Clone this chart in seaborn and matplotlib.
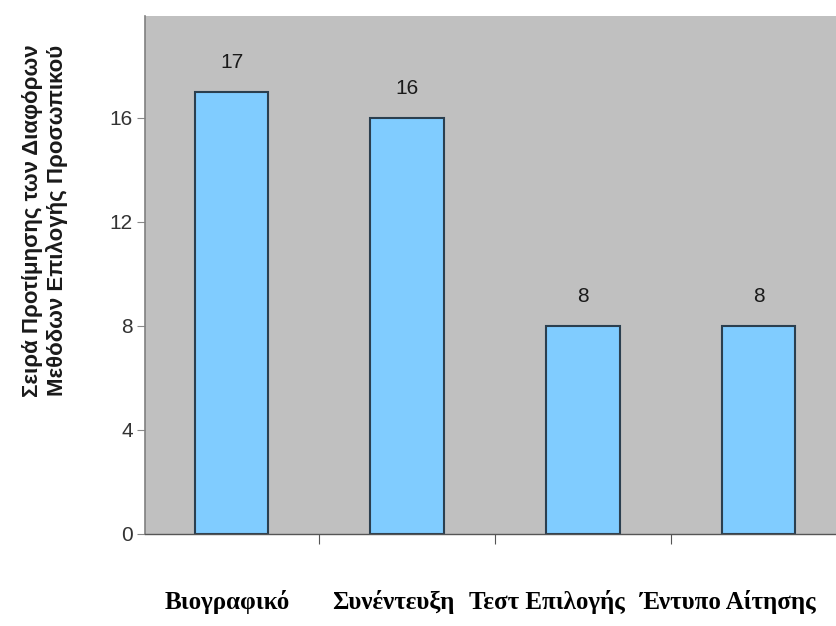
import matplotlib
matplotlib.use("Agg")
import matplotlib.pyplot as plt
import matplotlib.transforms as mtransforms
import seaborn as sns
import pandas as pd

methods = ["Βιογραφικό", "Συνέντευξη", "Τεστ Επιλογής", "Έντυπο Αίτησης"]
scores = [17, 16, 8, 8]
y_ticks = [0, 4, 8, 12, 16]

df = pd.DataFrame({"method": methods, "score": scores})

sns.set_theme(style="white")
plt.rcParams["font.family"] = ["Liberation Sans", "DejaVu Sans"]

fig = plt.figure(figsize=(8.36, 6.26), dpi=100)
ax = fig.add_axes([0.174, 0.147, 0.83, 0.827])
ax.set_facecolor("#c0c0c0")

sns.barplot(data=df, x="method", y="score", ax=ax, color="#80ccff",
            saturation=1, width=0.42, edgecolor="#2b3f4f", linewidth=1.5)

for i, v in enumerate(scores):
    ax.text(i, v + 0.75, str(v), ha="center", va="bottom",
            fontsize=15, color="#1a1a1a")

ax.set_ylim(0, 19.9)
ax.set_xlim(-0.49, 3.46)
ax.set_yticks(y_ticks)
ax.set_yticklabels([str(t) for t in y_ticks], fontsize=15, color="#333333")
ax.tick_params(axis="y", length=6, width=0.8, color="#888888", left=True, pad=3)

# category separators on the bottom axis, labels placed well below the bars
ax.set_xticks([0.5, 1.5, 2.5], minor=True)
ax.tick_params(axis="x", which="minor", length=7, width=0.8, color="#555555", bottom=True)
ax.set_xticks(range(len(methods)))
ax.set_xticklabels(methods, fontsize=18, fontweight="bold",
                   family=["Liberation Serif", "DejaVu Serif"], color="black")
ax.tick_params(axis="x", which="major", length=0, pad=40)

# nudge the category names left so they sit as a spaced row under the chart
shifts_px = [-4, -14, -36, -30]
for lbl, dx in zip(ax.get_xticklabels(), shifts_px):
    lbl.set_transform(lbl.get_transform() +
                      mtransforms.ScaledTranslation(dx / 100, 0, fig.dpi_scale_trans))

ax.set_xlabel("")
ax.set_ylabel("Σειρά Προτίμησης των Διαφόρων\nΜεθόδων Επιλογής Προσωπικού",
              fontsize=16, fontweight="bold", color="#1a1a1a",
              linespacing=1.15)
ax.yaxis.set_label_coords(-0.112, 0.606)

for side in ["top", "right"]:
    ax.spines[side].set_visible(False)
ax.spines["left"].set_color("#808080")
ax.spines["left"].set_linewidth(1.2)
ax.spines["bottom"].set_color("#555555")
ax.spines["bottom"].set_linewidth(1.0)

fig.savefig("out.png", dpi=100)
